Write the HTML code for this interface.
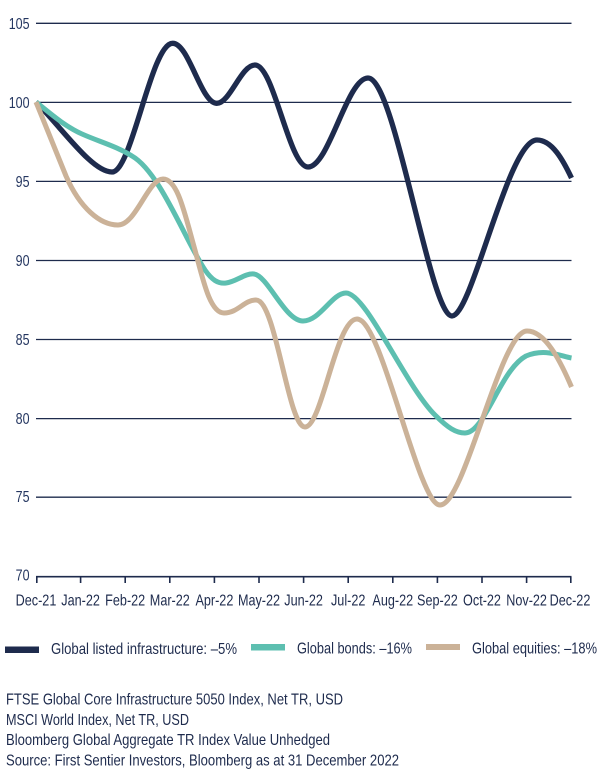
<!DOCTYPE html>
<html>
<head>
<meta charset="utf-8">
<style>
  html,body{margin:0;padding:0;background:#ffffff;}
  svg{display:block;}
  text{font-family:"Liberation Sans", sans-serif;fill:#1e2b4d;}
</style>
</head>
<body>
<svg width="605" height="775" viewBox="0 0 605 775" xmlns="http://www.w3.org/2000/svg">
  <!-- gridlines -->
  <g stroke="#1e2b4d" stroke-width="1.3">
    <line x1="36" y1="23.3" x2="571.5" y2="23.3"/>
    <line x1="36" y1="102.4" x2="571.5" y2="102.4"/>
    <line x1="36" y1="181.4" x2="571.5" y2="181.4"/>
    <line x1="36" y1="260.5" x2="571.5" y2="260.5"/>
    <line x1="36" y1="339.5" x2="571.5" y2="339.5"/>
    <line x1="36" y1="418.6" x2="571.5" y2="418.6"/>
    <line x1="36" y1="497.2" x2="571.5" y2="497.2"/>
  </g>
  <!-- x axis -->
  <g stroke="#1e2b4d" stroke-width="1.6">
    <line x1="36" y1="576.7" x2="571.5" y2="576.7"/>
    <line x1="36.8" y1="576.7" x2="36.8" y2="583"/>
    <line x1="80.6" y1="576.7" x2="80.6" y2="583"/>
    <line x1="125.2" y1="576.7" x2="125.2" y2="583"/>
    <line x1="169.8" y1="576.7" x2="169.8" y2="583"/>
    <line x1="214.4" y1="576.7" x2="214.4" y2="583"/>
    <line x1="259" y1="576.7" x2="259" y2="583"/>
    <line x1="303.6" y1="576.7" x2="303.6" y2="583"/>
    <line x1="348.2" y1="576.7" x2="348.2" y2="583"/>
    <line x1="392.8" y1="576.7" x2="392.8" y2="583"/>
    <line x1="437.4" y1="576.7" x2="437.4" y2="583"/>
    <line x1="482" y1="576.7" x2="482" y2="583"/>
    <line x1="526.6" y1="576.7" x2="526.6" y2="583"/>
    <line x1="570.8" y1="576.7" x2="570.8" y2="583"/>
  </g>
  <!-- y labels -->
  <g font-size="16" text-anchor="end">
    <text transform="translate(29.5,28.8) scale(0.78,1)" style="fill:#243660">105</text>
    <text transform="translate(29.5,107.9) scale(0.78,1)" style="fill:#243660">100</text>
    <text transform="translate(29.5,186.9) scale(0.78,1)" style="fill:#243660">95</text>
    <text transform="translate(29.5,266) scale(0.78,1)" style="fill:#243660">90</text>
    <text transform="translate(29.5,345) scale(0.78,1)" style="fill:#243660">85</text>
    <text transform="translate(29.5,424.1) scale(0.78,1)" style="fill:#243660">80</text>
    <text transform="translate(29.5,502.2) scale(0.78,1)" style="fill:#243660">75</text>
    <text transform="translate(29.5,580.5) scale(0.78,1)" style="fill:#243660">70</text>
  </g>
  <!-- x labels -->
  <g font-size="16" text-anchor="middle">
    <text transform="translate(36,605.3) scale(0.79,1)">Dec-21</text>
    <text transform="translate(80.6,605.3) scale(0.79,1)">Jan-22</text>
    <text transform="translate(125.2,605.3) scale(0.79,1)">Feb-22</text>
    <text transform="translate(169.8,605.3) scale(0.79,1)">Mar-22</text>
    <text transform="translate(214.4,605.3) scale(0.79,1)">Apr-22</text>
    <text transform="translate(259,605.3) scale(0.79,1)">May-22</text>
    <text transform="translate(303.6,605.3) scale(0.79,1)">Jun-22</text>
    <text transform="translate(348.2,605.3) scale(0.79,1)">Jul-22</text>
    <text transform="translate(392.8,605.3) scale(0.79,1)">Aug-22</text>
    <text transform="translate(437.4,605.3) scale(0.79,1)">Sep-22</text>
    <text transform="translate(482,605.3) scale(0.79,1)">Oct-22</text>
    <text transform="translate(526.6,605.3) scale(0.79,1)">Nov-22</text>
    <text transform="translate(570,605.3) scale(0.79,1)">Dec-22</text>
  </g>

  <!-- series -->
  <g fill="none" stroke-linecap="butt" stroke-linejoin="round">
    <!-- infrastructure -->
    <path stroke="#1e2b4d" stroke-width="5.3"
      d="M36,102 C62,128 92,172 112,172
         C132,172 151,43.3 172.7,43.3
         C189,43.3 201,103.3 216.7,103.3
         C230,103.3 241,65 255,65
         C274,65 289,167 308,167
         C329,167 347,78 368,78
         C395,78 430,316 452,316
         C472,316 508,140 537,140
         C552,140 563,160 571.5,178"/>
    <!-- bonds -->
    <path stroke="#5dbfb0" stroke-width="5"
      d="M36,102 C52,115 66,127 82,134
         C100,142 116,146 132,156
         C160,172 185,240 205,270
         C212,280 218,284 226,283
         C236,282 245,273 254,274
         C268,276 285,321 303,321
         C320,321 332,293 346,293
         C366,293 405,385 435,415
         C448,428 456,433 465,433
         C485,433 500,370 526,356
         C545,348 560,356 571.5,358"/>
    <!-- equities -->
    <path stroke="#cbb298" stroke-width="5"
      d="M36,102 L66,176
         C80,208 100,225 118,225
         C136,225 148,179 163,179
         C178,179 185,215 195,250
         C203,280 210,313 224,313
         C238,313 244,300 256,300
         C276,300 288,427 305,427
         C322,427 336,319 357,319
         C382,319 418,505 440,505
         C465,505 500,331 527,331
         C545,331 560,360 571.5,387"/>
  </g>

  <!-- legend -->
  <rect x="5" y="646.5" width="34" height="6.5" fill="#1e2b4d"/>
  <rect x="251" y="644" width="34" height="6.5" fill="#5dbfb0"/>
  <rect x="426" y="644" width="34" height="6" fill="#cbb298"/>
  <g font-size="16">
    <text x="51" y="654" textLength="186" lengthAdjust="spacingAndGlyphs">Global listed infrastructure: –5%</text>
    <text x="297" y="653.5" textLength="115" lengthAdjust="spacingAndGlyphs">Global bonds: –16%</text>
    <text x="472" y="653.5" textLength="125" lengthAdjust="spacingAndGlyphs">Global equities: –18%</text>
  </g>

  <!-- footnotes -->
  <g font-size="16">
    <text x="6" y="704.3" textLength="337" lengthAdjust="spacingAndGlyphs">FTSE Global Core Infrastructure 5050 Index, Net TR, USD</text>
    <text x="6" y="724.8" textLength="183" lengthAdjust="spacingAndGlyphs">MSCI World Index, Net TR, USD</text>
    <text x="6" y="744.8" textLength="324" lengthAdjust="spacingAndGlyphs">Bloomberg Global Aggregate TR Index Value Unhedged</text>
    <text x="6" y="765.3" textLength="393" lengthAdjust="spacingAndGlyphs">Source: First Sentier Investors, Bloomberg as at 31 December 2022</text>
  </g>
</svg>
</body>
</html>
